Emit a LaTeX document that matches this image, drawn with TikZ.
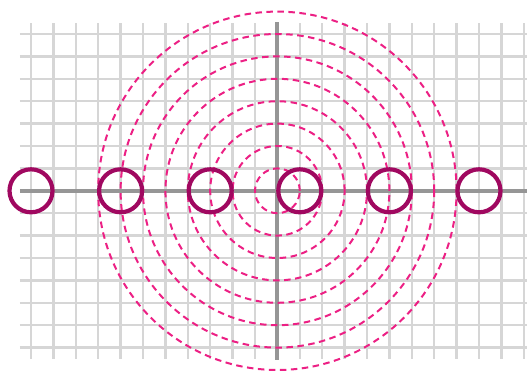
\documentclass[tikz,border=0pt]{standalone}
\begin{document}
\begin{tikzpicture}[x=22.4pt,y=22.4pt,
  gridline/.style={draw={rgb,255:red,214;green,214;blue,214},line width=2.4pt},
  axisline/.style={draw={rgb,255:red,150;green,150;blue,150},line width=4pt},
  wave/.style={draw={rgb,255:red,236;green,32;blue,132},line width=2pt,dash pattern=on 6.5pt off 4.5pt},
  ring/.style={circle,draw={rgb,255:red,160;green,8;blue,96},line width=4.2pt,minimum size=43pt,inner sep=0pt}]
\useasboundingbox (-12.384,-8.134) rectangle (11.143,8.518);
% grid
\foreach \i in {-11,...,11} \draw[gridline] (\i,-7.5) -- (\i,7.5);
\foreach \j in {-7,...,7} \draw[gridline] (-11.5,\j) -- (11.143,\j);
% axes
\draw[axisline] (-11.5,0) -- (11.143,0);
\draw[axisline] (0,-7.55) -- (0,7.55);
% dashed circles
\coordinate (o) at (0,0);
\foreach \r in {1,...,8} \draw[wave] (o) circle (\r);
% rings
\foreach \k [count=\n] in {-11,-7,-3,1,5,9}
  \node[ring] (c\n) at (\k,0) {};
\end{tikzpicture}
\end{document}
